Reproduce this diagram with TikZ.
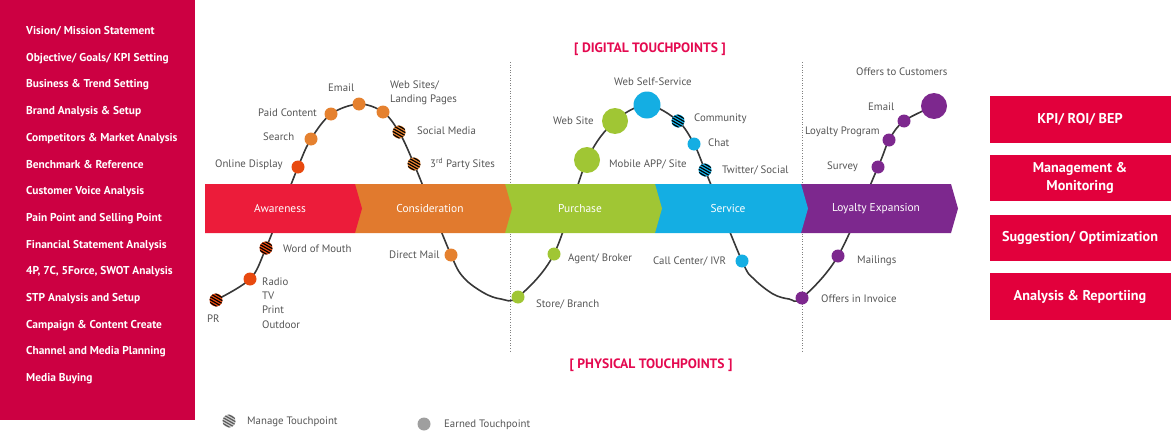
\documentclass[tikz,border=0pt]{standalone}
\usepackage{fontspec}
\setmainfont{PT Sans}
\usetikzlibrary{calc}
\definecolor{panelred}{RGB}{204,0,66}
\definecolor{boxred}{RGB}{226,0,60}
\definecolor{headred}{RGB}{228,10,80}
\definecolor{cAw}{RGB}{236,28,58}
\definecolor{cCo}{RGB}{225,122,46}
\definecolor{cPu}{RGB}{160,198,52}
\definecolor{cSe}{RGB}{20,174,227}
\definecolor{cLo}{RGB}{125,40,142}
\definecolor{dRed}{RGB}{232,73,15}
\definecolor{dOr}{RGB}{229,129,47}
\definecolor{dGr}{RGB}{160,198,52}
\definecolor{dBl}{RGB}{20,174,227}
\definecolor{dPu}{RGB}{125,40,142}
\definecolor{lbl}{RGB}{85,85,85}
\definecolor{curvec}{RGB}{55,55,55}
\tikzset{
  dot/.style={circle, inner sep=0pt, minimum size=13pt, fill=#1},
  bigdot/.style={circle, inner sep=0pt, minimum size=26pt, fill=#1},
  lab/.style={text=lbl, font=\fontsize{10.8}{14}\selectfont, inner sep=0pt},
  sl/.style={lab, anchor=west, text height=8.4pt, text depth=1pt},
  panelitem/.style={text=white, font=\bfseries\fontsize{11.4}{13}\selectfont, anchor=west, inner sep=0pt},
  boxtext/.style={text=white, font=\bfseries\fontsize{14.2}{17.5}\selectfont, align=center},
  bandtext/.style={text=white, font=\fontsize{11.4}{13}\selectfont},
  headtext/.style={text=headred, font=\bfseries\fontsize{13.6}{15}\selectfont},
  sep/.style={dotted, gray, line width=0.6pt},
}
\newcommand\hdot[4]{%
  \node[dot=#3] (#1) at (#2) {};
  \begin{scope}
    \clip (#1.center) circle (6.5pt);
    \foreach \k in {-6,...,6} {\draw[#4, line width=1.15pt] ($(#1.center)+(-14,-8+\k*3)$) -- ++(28,16);}
  \end{scope}}
\newcommand\bandseg[5]{%
  \fill[#3] (#1,184) -- (#2,184) -- ($(#2,184)+(7,24.5)$) -- (#2,233) -- (#1,233) -- cycle;
  \node[bandtext] (#4) at ($(#1,208.5)!0.5!(#2,208.5)$) {#5};}
\newcommand\rbox[3]{%
  \fill[boxred] (989.5,#2) rectangle (1171,#2+46.5);
  \node[boxtext] (#1) at (1080,#2+23.5) {#3};}
\begin{document}
\begin{tikzpicture}[x=1pt,y=-1pt]
\useasboundingbox (0,0) rectangle (1171,431);
% left panel
\fill[panelred] (0,0) rectangle (194.5,420);
\foreach \t [count=\i from 0] in {Vision/ Mission Statement, Objective/ Goals/ KPI Setting, Business \& Trend Setting, Brand Analysis \& Setup, Competitors \& Market Analysis, Benchmark \& Reference, Customer Voice Analysis, Pain Point and Selling Point, Financial Statement Analysis, {4P, 7C, 5Force, SWOT Analysis}, STP Analysis and Setup, Campaign \& Content Create, Channel and Media Planning, Media Buying}
  \node[panelitem] (item\i) at (26,31.5+26.7*\i) {\t};
% right boxes
\rbox{box1}{96}{KPI/ ROI/ BEP}
\rbox{box2}{154.5}{Management \&\\Monitoring}
\rbox{box3}{214.5}{Suggestion/ Optimization}
\rbox{box4}{273}{Analysis \& Reportiing}
% headers
\node[headtext] (digital) at (650,49) {[ DIGITAL TOUCHPOINTS ]};
\node[headtext] (physical) at (651,365) {[ PHYSICAL TOUCHPOINTS ]};
% separators
\coordinate (s1t) at (510,62); \coordinate (s1b) at (510,353);
\coordinate (s2t) at (802,62); \coordinate (s2b) at (802,353);
\draw[sep] (s1t) -- (s1b);
\draw[sep] (s2t) -- (s2b);
% curve coordinates
\coordinate (pr) at (216,300);
\coordinate (radio) at (250,279);
\coordinate (wom) at (266,248);
\coordinate (od) at (298,167);
\coordinate (search) at (311,139);
\coordinate (paid) at (331,114);
\coordinate (email) at (359,104);
\coordinate (web) at (383,112);
\coordinate (social) at (399,132);
\coordinate (third) at (414,164);
\coordinate (dm) at (451,255);
\coordinate (t1) at (464,278);
\coordinate (t2) at (484,293);
\coordinate (t3) at (501,299);
\coordinate (store) at (518,297);
\coordinate (agent) at (554,254);
\coordinate (mobile) at (587,160);
\coordinate (website) at (615,121);
\coordinate (wss) at (647,105);
\coordinate (comm) at (678,121);
\coordinate (chat) at (694,144);
\coordinate (tw) at (705,170);
\coordinate (call) at (742,261);
\coordinate (u1) at (754,279);
\coordinate (u2) at (773,294);
\coordinate (u3) at (789,299);
\coordinate (inv) at (802,298);
\coordinate (mail) at (838,256);
\coordinate (survey) at (878,167);
\coordinate (lp) at (889,140);
\coordinate (lemail) at (904,121);
\coordinate (otc) at (934,106);
\draw[curvec, line width=1.6pt] plot[smooth, tension=0.55] coordinates {(pr) (radio) (wom) (od) (search) (paid) (email) (web) (social) (third) (dm) (t1) (t2) (t3) (store) (agent) (mobile) (website) (wss) (comm) (chat) (tw) (call) (u1) (u2) (u3) (inv) (mail) (survey) (lp) (lemail) (otc)};
% band
\bandseg{801}{951}{cLo}{loyalty}{Loyalty Expansion}
\bandseg{655}{801}{cSe}{service}{Service}
\bandseg{505}{655}{cPu}{purchase}{Purchase}
\bandseg{355}{505}{cCo}{consideration}{Consideration}
\bandseg{205}{355}{cAw}{awareness}{Awareness}
% dots
\hdot{prD}{pr}{dRed}{black}
\node[dot=dRed] (radioD) at (radio) {};
\hdot{womD}{wom}{dRed}{black}
\node[dot=dRed] (odD) at (od) {};
\node[dot=dOr] (searchD) at (search) {};
\node[dot=dOr] (paidD) at (paid) {};
\node[dot=dOr] (emailD) at (email) {};
\node[dot=dOr] (webD) at (web) {};
\hdot{socialD}{social}{dOr}{black}
\hdot{thirdD}{third}{dOr}{black}
\node[dot=dOr] (dmD) at (dm) {};
\node[dot=dGr] (storeD) at (store) {};
\node[dot=dGr] (agentD) at (agent) {};
\node[bigdot=dGr] (mobileD) at (mobile) {};
\node[bigdot=dGr] (websiteD) at (website) {};
\node[bigdot=dBl, minimum size=27pt] (wssD) at (wss) {};
\hdot{commD}{comm}{dBl}{black}
\node[dot=dBl] (chatD) at (chat) {};
\hdot{twD}{tw}{dBl}{black}
\node[dot=dBl] (callD) at (call) {};
\node[dot=dPu] (invD) at (inv) {};
\node[dot=dPu] (mailD) at (mail) {};
\node[dot=dPu] (surveyD) at (survey) {};
\node[dot=dPu] (lpD) at (lp) {};
\node[dot=dPu] (lemailD) at (lemail) {};
\node[bigdot=dPu] (otcD) at (otc) {};
% labels
\node[sl] (lOd) at (215,164) {Online Display};
\node[sl] (lSearch) at (263,137) {Search};
\node[sl] (lPaid) at (258,113) {Paid Content};
\node[sl] (lEmail) at (328,88) {Email};
\node[lab, anchor=west, align=left] (lWeb) at (390,92.5) {Web Sites/\\Landing Pages};
\node[sl] (lSocial) at (417,131) {Social Media};
\node[sl] (lThird) at (430,164) {3\textsuperscript{rd} Party Sites};
\node[sl] (lWom) at (283,249) {Word of Mouth};
\node[sl] (lDm) at (389,255) {Direct Mail};
\node[lab, anchor=north west, align=left, font=\fontsize{10.8}{14.3}\selectfont] (lRadio) at (262,277.5) {Radio\\TV\\Print\\Outdoor};
\node[sl] (lPr) at (207,319) {PR};
\node[sl] (lWss) at (614,82) {Web Self-Service};
\node[sl] (lWebsite) at (553,121) {Web Site};
\node[sl] (lMobile) at (609,164) {Mobile APP/ Site};
\node[sl] (lComm) at (694,118) {Community};
\node[sl] (lChat) at (708,143) {Chat};
\node[sl] (lTw) at (722,170) {Twitter/ Social};
\node[sl] (lAgent) at (568,258) {Agent/ Broker};
\node[sl] (lStore) at (536,304) {Store/ Branch};
\node[sl] (lCall) at (653,261) {Call Center/ IVR};
\node[sl] (lInv) at (821,299) {Offers in Invoice};
\node[sl] (lMail) at (857,260) {Mailings};
\node[sl] (lSurvey) at (827,166) {Survey};
\node[sl] (lLp) at (805,131) {Loyalty Program};
\node[sl] (lLemail) at (868,107) {Email};
\node[sl] (lOtc) at (856,72) {Offers to Customers};
% legend
\coordinate (legM) at (229,421);
\hdot{legMD}{legM}{gray!40}{gray!70!black}
\node[sl] (legMT) at (247,421) {Manage Touchpoint};
\node[dot=gray!75] (legED) at (424,424) {};
\node[sl] (legET) at (444,424) {Earned Touchpoint};
\end{tikzpicture}
\end{document}
